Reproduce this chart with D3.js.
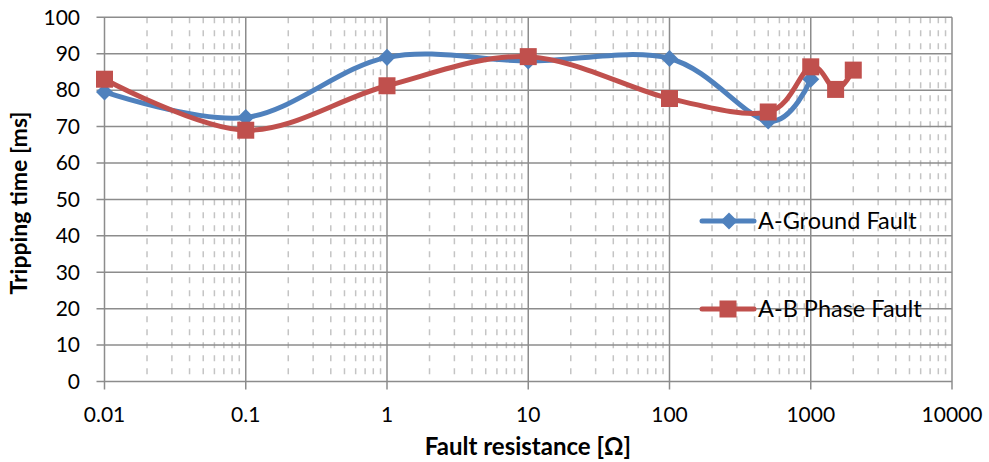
<!DOCTYPE html>
<html>
<head>
<meta charset="utf-8">
<script src="https://d3js.org/d3.v7.min.js"></script>
<style>
  body { margin: 0; background: #fff; }
  text { font-family: Lato, "Liberation Sans", sans-serif; fill: #000; }
</style>
</head>
<body>
<svg width="989" height="462"></svg>
<script>
// data
var groundR = [0.01, 0.1, 1, 10, 100, 500, 1000];
var groundT = [79.5, 72.5, 89, 88, 88.7, 71.5, 83];
var phaseR = [0.01, 0.1, 1, 10, 100, 500, 1000, 1500, 2000];
var phaseT = [83, 69, 81.2, 89.2, 77.7, 74, 86.4, 80.2, 85.5];
var xTicks = [0.01, 0.1, 1, 10, 100, 1000, 10000];
var yTicks = [0, 10, 20, 30, 40, 50, 60, 70, 80, 90, 100];
var seriesNames = ["A-Ground Fault", "A-B Phase Fault"];

var svg = d3.select("svg");
var plotLeft = 104.5, plotRight = 952, plotTop = 17.3, plotBottom = 381.5;

var x = d3.scaleLog().domain([0.01, 10000]).range([plotLeft, plotRight]);
var y = d3.scaleLinear().domain([0, 100]).range([plotBottom, plotTop]);

var blue = "#4f81bd", red = "#c0504d";

// minor vertical gridlines (dashed)
var minor = [];
for (var d = 0.01; d < 9999; d *= 10) {
    for (var k = 2; k <= 9; k++) minor.push(d * k);
}
svg.append("g").selectAll("line").data(minor).enter().append("line")
    .attr("x1", function(v) { return x(v); })
    .attr("x2", function(v) { return x(v); })
    .attr("y1", plotTop).attr("y2", plotBottom)
    .attr("stroke", "#c4c4c4")
    .attr("stroke-width", 1.5)
    .attr("stroke-dasharray", "6,7");

// major gridlines
svg.append("g").selectAll("line").data(yTicks).enter().append("line")
    .attr("x1", plotLeft - 8).attr("x2", plotRight)
    .attr("y1", function(v) { return y(v); })
    .attr("y2", function(v) { return y(v); })
    .attr("stroke", "#8c8c8c")
    .attr("stroke-width", 1.5);

svg.append("g").selectAll("line").data(xTicks).enter().append("line")
    .attr("x1", function(v) { return x(v); })
    .attr("x2", function(v) { return x(v); })
    .attr("y1", plotTop).attr("y2", plotBottom + 8)
    .attr("stroke", "#8c8c8c")
    .attr("stroke-width", 1.5);

// tick labels
svg.append("g").selectAll("text").data(yTicks).enter().append("text")
    .attr("x", 80).attr("y", function(v) { return y(v); })
    .attr("dy", "0.35em")
    .attr("text-anchor", "end")
    .style("font-size", "21px")
    .text(function(v) { return v; });

svg.append("g").selectAll("text").data(xTicks).enter().append("text")
    .attr("x", function(v) { return x(v); }).attr("y", 415)
    .attr("dy", "0.35em")
    .attr("text-anchor", "middle")
    .style("font-size", "21px")
    .text(function(v) { return String(v); });

// axis titles
svg.append("text")
    .attr("x", 528).attr("y", 447)
    .attr("dy", "0.35em")
    .attr("text-anchor", "middle")
    .style("font-size", "24px").style("font-weight", "bold")
    .text("Fault resistance [Ω]");

svg.append("text")
    .attr("transform", "translate(19,203) rotate(-90)")
    .attr("dy", "0.35em")
    .attr("text-anchor", "middle")
    .style("font-size", "23px").style("font-weight", "bold")
    .text("Tripping time [ms]");

var line = d3.line()
    .x(function(p) { return x(p[0]); })
    .y(function(p) { return y(p[1]); })
    .curve(d3.curveCardinal.tension(0));

var groundPts = d3.zip(groundR, groundT);
var phasePts = d3.zip(phaseR, phaseT);

var diamond = d3.symbol().type(d3.symbolDiamond2).size(185);
var sq = 17;

// ground series
svg.append("path").datum(groundPts)
    .attr("d", line)
    .attr("fill", "none").attr("stroke", blue).attr("stroke-width", 5);
svg.append("g").selectAll("path").data(groundPts).enter().append("path")
    .attr("transform", function(p) { return "translate(" + x(p[0]) + "," + y(p[1]) + ")"; })
    .attr("d", diamond)
    .attr("fill", blue);

// phase series
svg.append("path").datum(phasePts)
    .attr("d", line)
    .attr("fill", "none").attr("stroke", red).attr("stroke-width", 5);
svg.append("g").selectAll("rect").data(phasePts).enter().append("rect")
    .attr("x", function(p) { return x(p[0]) - sq / 2; })
    .attr("y", function(p) { return y(p[1]) - sq / 2; })
    .attr("width", sq).attr("height", sq)
    .attr("fill", red);

// legend
var leg = svg.append("g");
leg.append("line").attr("x1", 702).attr("x2", 754).attr("y1", 221).attr("y2", 221)
    .attr("stroke", blue).attr("stroke-width", 5).attr("stroke-linecap", "round");
leg.append("path").attr("transform", "translate(729,221)").attr("d", diamond).attr("fill", blue);
leg.append("text").attr("x", 758).attr("y", 221).attr("dy", "0.35em")
    .style("font-size", "23.5px").text(seriesNames[0]);

leg.append("line").attr("x1", 702).attr("x2", 754).attr("y1", 309).attr("y2", 309)
    .attr("stroke", red).attr("stroke-width", 5).attr("stroke-linecap", "round");
leg.append("rect").attr("x", 728 - sq / 2).attr("y", 309 - sq / 2).attr("width", sq).attr("height", sq).attr("fill", red);
leg.append("text").attr("x", 758).attr("y", 309).attr("dy", "0.35em")
    .style("font-size", "23.5px").text(seriesNames[1]);
</script>
</body>
</html>
